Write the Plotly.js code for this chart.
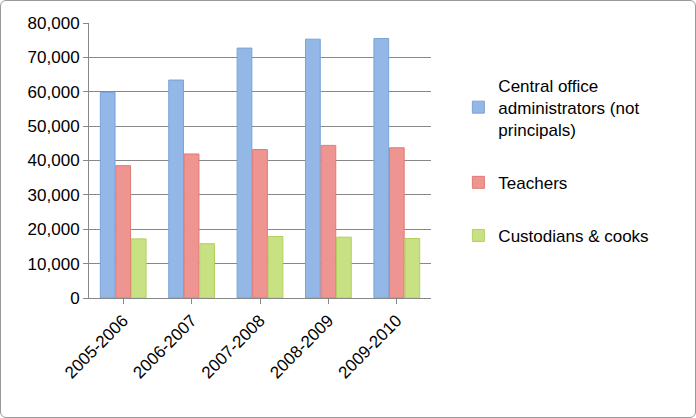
<!DOCTYPE html>
<html>
<head>
<script src="https://cdn.plot.ly/plotly-3.0.1.min.js"></script>
<style>body{margin:0;background:#fff}#chart{width:696px;height:418px;box-sizing:border-box;border:1px solid #999;border-radius:6px}</style>
</head>
<body>
<div id="chart"></div>
<script>
var years = ['2005-2006', '2006-2007', '2007-2008', '2008-2009', '2009-2010']
var admins = [59800, 63400, 72700, 75300, 75500]
var teachers = [38500, 41900, 43200, 44400, 43700]
var custodians = [17200, 15800, 17900, 17700, 17300]

var data = [
    {x: years, y: admins, name: 'Central office<br>administrators (not<br>principals)', type: 'bar', legendgroup: 'a',
        marker: {color: '#93b7e6', line: {color: '#7aa3d8', width: 1}}},
    {x: years, y: teachers, name: 'Teachers', type: 'bar', legendgroup: 'b',
        marker: {color: '#ee9491', line: {color: '#e07a76', width: 1}}},
    {x: years, y: custodians, name: 'Custodians & cooks', type: 'bar', legendgroup: 'c',
        marker: {color: '#c8e283', line: {color: '#b0d060', width: 1}}}
]

var layout = {
    width: 696,
    height: 418,
    margin: {l: 88, r: 266, t: 22, b: 121},
    bargap: 0.32,
    bargroupgap: 0.05,
    font: {family: 'Liberation Sans, Arial', size: 17, color: '#000'},
    xaxis: {tickangle: -45, showline: true, linecolor: '#888', ticks: 'outside', ticklen: 5, tickcolor: '#888'},
    yaxis: {range: [0, 80000], dtick: 10000, tickformat: ',d', showgrid: true, gridcolor: '#888',
        showline: true, linecolor: '#888', ticks: 'outside', ticklen: 5, tickcolor: '#888'},
    legend: {x: 1.08, y: 0.5, yanchor: 'middle', tracegroupgap: 28, font: {size: 17}},
    showlegend: true,
    plot_bgcolor: '#fff',
    paper_bgcolor: 'rgba(0,0,0,0)'
}

Plotly.newPlot('chart', data, layout, {displayModeBar: false})
</script>
</body>
</html>
